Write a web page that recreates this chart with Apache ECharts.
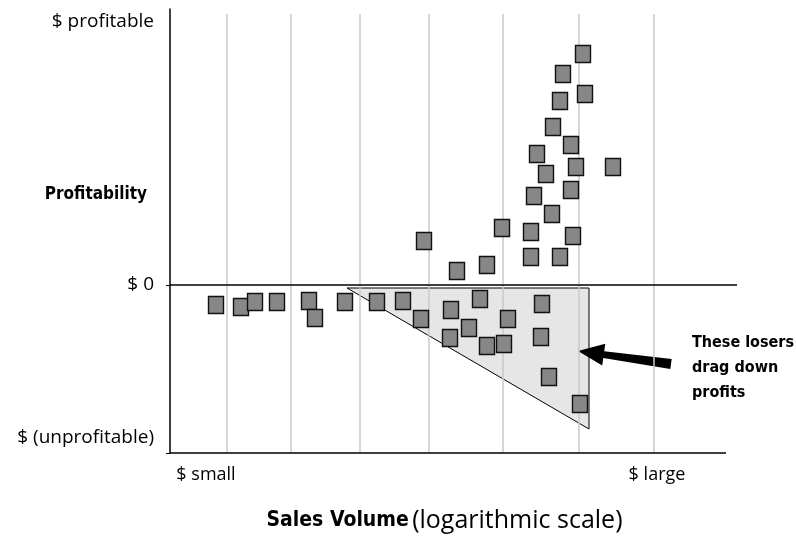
<!doctype html>
<html><head><meta charset="utf-8" />
<style>
  html,body,#app{margin:0;padding:0;width:796px;height:545px;background:#ffffff}
</style>
<script src="https://cdn.jsdelivr.net/npm/echarts@6.0.0/dist/echarts.min.js"></script>
</head><body><div id="app"></div>
<script>
// sales volume (log position) vs profitability, arbitrary units
const profitable = [
  [413,231],[393,211],[415,191],[390,184],[383,158],[401,140],[367,131],[406,118],[443,118],
  [376,111],[401,95],[364,89],[382,71],[332,57],[361,53],[403,49],[254,44],[361,28],[390,28],
  [317,20],[287,14]
];
const losers = [
  [46,-20],[71,-22],[85,-17],[107,-17],[139,-16],[145,-33],[175,-17],[207,-17],[233,-16],
  [251,-34],[281,-25],[310,-14],[372,-19],[299,-43],[338,-34],[280,-53],[317,-61],[334,-59],
  [371,-52],[379,-92],[410,-119]
];
const gridX = [57,121,190,259,333,409,484];
const xTickValues = [36,487];
const xTickLabels = ['$ small','$ large'];
const yTickValues = [263,0,-153];
const yTickLabels = ['$ profitable','$ 0','$ (unprofitable)'];
const loserZone = [[177,-3],[419,-3],[419,-144]];
const arrowTail = [501,-79];
const arrowTip = [408,-66];

const X_MIN = 0, X_MAX = 567, Y_MIN = -168, Y_MAX = 276;
const FONT = "'Open Sans', sans-serif";
const BOLD = "'DejaVu Sans Condensed', 'DejaVu Sans', sans-serif";

const chart = echarts.init(document.getElementById('app'));
chart.setOption({
  animation:false,
  backgroundColor:'#ffffff',
  grid:{ left:170, right:59, top:9, bottom:92, containLabel:false, outerBoundsMode:'none' },
  xAxis:{
    type:'value', min:X_MIN, max:X_MAX,
    axisLine:{ show:false }, splitLine:{ show:false }, axisTick:{ show:false },
    axisLabel:{ customValues:xTickValues, margin:13, color:'#000', fontSize:18, fontFamily:FONT,
      formatter:v => xTickLabels[xTickValues.indexOf(v)] },
    name:'{b|Sales Volume} {r|(logarithmic scale)}', nameLocation:'middle', nameGap:55,
    nameMoveOverlap:false,
    nameTextStyle:{ padding:[0,18,0,0], rich:{
      b:{ fontFamily:BOLD, fontWeight:'bold', fontSize:21, color:'#000' },
      r:{ fontFamily:FONT, fontSize:25, color:'#000' } } }
  },
  yAxis:{
    type:'value', min:Y_MIN, max:Y_MAX,
    axisLine:{ show:true, lineStyle:{ color:'#000', width:1.5 } },
    splitLine:{ show:false },
    axisTick:{ show:true, customValues:[0, Y_MIN], length:4, lineStyle:{ color:'#000' } },
    axisLabel:{ customValues:yTickValues, margin:16, color:'#000', fontSize:19, fontFamily:FONT,
      formatter:v => yTickLabels[yTickValues.indexOf(v)] }
  },
  graphic:[
    { type:'text', right:649, top:186,
      style:{ text:'Profitability', font:"bold 17px 'DejaVu Sans Condensed', sans-serif", fill:'#000' } },
    { type:'text', left:692, top:330,
      style:{ text:'These losers\ndrag down\nprofits', font:"bold 16px 'DejaVu Sans Condensed', sans-serif",
        lineHeight:25, fill:'#000' } }
  ],
  series:[
    { type:'custom', z:1, data:[[0,0]], silent:true,
      renderItem:(params, api) => ({
        type:'polygon',
        shape:{ points:loserZone.map(p => api.coord(p)) },
        style:{ fill:'#e6e6e6', stroke:'#000', lineWidth:1 }
      })
    },
    { type:'line', z:2, data:[], silent:true,
      markLine:{ silent:true, symbol:'none', label:{ show:false }, animation:false,
        lineStyle:{ color:'#c8c8c8', width:1.5, type:'solid' },
        data: gridX.map(x => [{ coord:[x, Y_MIN] }, { coord:[x, 271] }]) }
    },
    { type:'line', z:3, data:[], silent:true,
      markLine:{ silent:true, symbol:'none', label:{ show:false }, animation:false,
        lineStyle:{ color:'#000', width:1.5, type:'solid' },
        data:[
          [{ coord:[X_MIN, 0] }, { coord:[X_MAX, 0] }],
          [{ coord:[X_MIN, Y_MIN] }, { coord:[556, Y_MIN] }]
        ] }
    },
    { type:'custom', z:4, silent:true, data:[[arrowTail[0], arrowTail[1], arrowTip[0], arrowTip[1]]],
      renderItem:(params, api) => {
        const a = api.coord([api.value(0), api.value(1)]);
        const b = api.coord([api.value(2), api.value(3)]);
        const dx = b[0]-a[0], dy = b[1]-a[1], len = Math.hypot(dx, dy);
        const ux = dx/len, uy = dy/len, nx = -uy, ny = ux;
        const head = 26, hw = 11;
        const neck = [b[0]-ux*head, b[1]-uy*head];
        const p = (base, w) => [base[0]+nx*w, base[1]+ny*w];
        return { type:'polygon',
          shape:{ points:[p(a,5), p(neck,3.5), p(neck,hw), b, p(neck,-hw), p(neck,-3.5), p(a,-5)] },
          style:{ fill:'#000' } };
      }
    },
    { name:'Profitable', type:'scatter', z:5, symbol:'rect', symbolSize:[15,17], data:profitable,
      itemStyle:{ color:'#878787', borderColor:'#111', borderWidth:1.5, opacity:1 } },
    { name:'Losers', type:'scatter', z:5, symbol:'rect', symbolSize:[15,17], data:losers,
      itemStyle:{ color:'#878787', borderColor:'#111', borderWidth:1.5, opacity:1 } }
  ]
});
</script></body></html>
